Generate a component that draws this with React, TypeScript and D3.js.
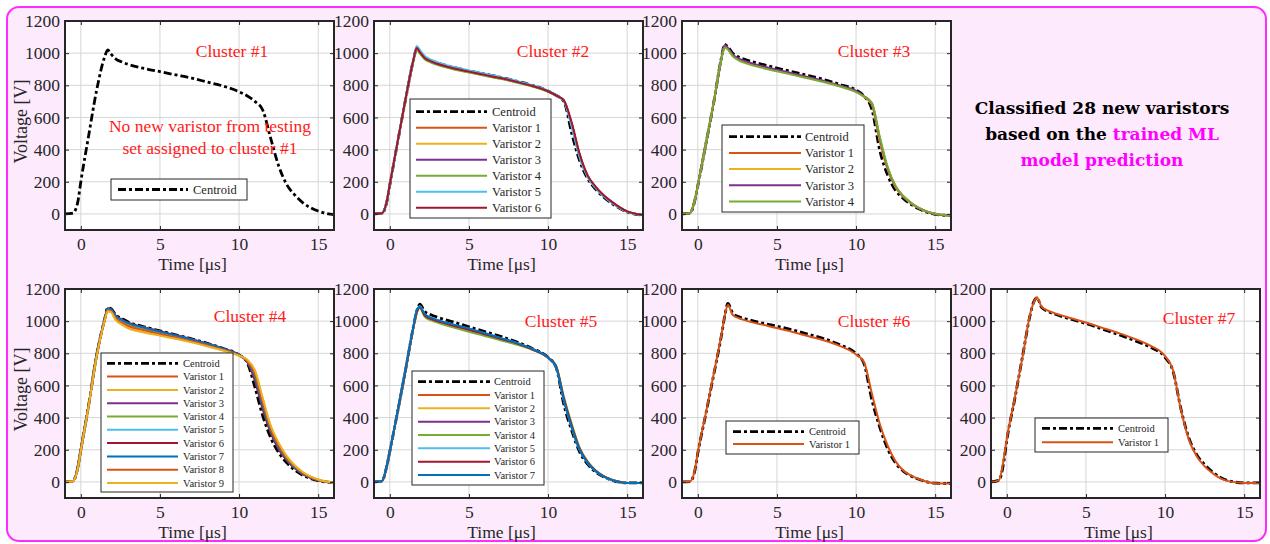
import React, { useRef, useEffect } from 'react';
import * as d3 from 'd3';

// shared sample times (µs) for every waveform
const timeUs = [-1, -0.5, -0.2, 0, 0.5, 1, 1.5, 1.7, 1.9, 2.2, 2.6, 3, 4, 5, 6, 7, 8, 9, 10, 10.5, 11, 11.5, 12, 12.5, 13, 13.5, 14, 15, 16];

const cluster1Centroid = [0, 5, 70, 200, 490, 770, 975, 1020, 995, 965, 945, 930, 905, 885, 865, 845, 820, 795, 760, 735, 700, 645, 470, 300, 185, 120, 72, 18, -5];

const cluster2Centroid = [0, 3, 70, 180, 450, 715, 960, 1030, 1010, 975, 955, 940, 912, 890, 870, 850, 826, 800, 765, 738, 700, 500, 330, 220, 155, 105, 68, 12, -8];
const cluster2Varistors = [
  [0, 4, 75, 185, 452, 716, 958, 1025, 1000, 965, 945, 930, 903, 882, 862, 842, 820, 795, 762, 737, 705, 560, 368, 238, 168, 116, 76, 15, -7],
  [0, 3, 72, 182, 450, 714, 957, 1028, 1005, 968, 948, 933, 906, 885, 865, 845, 822, 797, 763, 738, 704, 550, 360, 235, 165, 114, 74, 14, -7],
  [0, 4, 74, 184, 451, 716, 959, 1030, 1008, 972, 950, 936, 908, 887, 867, 846, 823, 797, 763, 737, 703, 545, 355, 232, 163, 112, 73, 14, -7],
  [0, 3, 71, 181, 449, 713, 955, 1022, 998, 962, 942, 927, 900, 880, 860, 840, 818, 793, 760, 736, 704, 555, 365, 237, 167, 115, 75, 15, -7],
  [0, 4, 76, 186, 455, 722, 968, 1045, 1020, 982, 960, 944, 915, 893, 872, 851, 827, 800, 766, 739, 703, 540, 350, 230, 162, 111, 72, 13, -7],
  [0, 4, 75, 185, 453, 718, 962, 1032, 1006, 970, 949, 934, 906, 885, 865, 845, 822, 796, 763, 738, 706, 565, 372, 240, 170, 118, 78, 16, -7],
];

const cluster3Centroid = [0, 5, 80, 175, 430, 690, 975, 1055, 1040, 1000, 975, 960, 932, 907, 884, 860, 835, 805, 770, 733, 650, 395, 240, 146, 95, 58, 30, -2, -10];
const cluster3Varistors = [
  [0, 5, 82, 178, 432, 692, 972, 1045, 1028, 988, 962, 946, 918, 894, 872, 848, 824, 796, 763, 730, 680, 450, 275, 165, 105, 64, 34, 0, -10],
  [0, 5, 82, 178, 433, 693, 973, 1046, 1027, 987, 961, 945, 917, 893, 871, 847, 823, 795, 762, 730, 682, 455, 278, 167, 106, 65, 35, 0, -10],
  [0, 5, 81, 177, 431, 691, 973, 1050, 1033, 992, 966, 950, 921, 897, 874, 850, 826, 798, 765, 732, 688, 470, 285, 170, 108, 66, 35, 0, -10],
  [0, 5, 80, 176, 430, 690, 968, 1035, 1022, 982, 954, 938, 910, 887, 865, 842, 819, 792, 758, 730, 692, 480, 292, 174, 110, 68, 36, 1, -10],
];

const cluster4Centroid = [0, 5, 85, 200, 480, 790, 1010, 1083, 1078, 1040, 1015, 995, 965, 940, 915, 890, 862, 830, 790, 745, 590, 410, 275, 183, 120, 75, 43, 8, -5];
const cluster4Varistors = [
  [0, 5, 85, 198, 478, 785, 1005, 1072, 1068, 1025, 998, 980, 952, 928, 905, 880, 853, 823, 788, 750, 640, 460, 310, 208, 138, 88, 52, 11, -5],
  [0, 4, 80, 195, 475, 780, 1000, 1062, 1058, 1010, 980, 958, 932, 912, 892, 870, 845, 818, 785, 760, 690, 515, 345, 240, 160, 103, 62, 15, -5],
  [0, 5, 84, 198, 478, 786, 1006, 1074, 1070, 1028, 1002, 984, 956, 932, 908, 883, 856, 826, 789, 752, 650, 470, 318, 212, 141, 90, 53, 11, -5],
  [0, 5, 83, 197, 477, 784, 1004, 1070, 1065, 1020, 993, 975, 947, 923, 900, 876, 850, 821, 787, 754, 660, 480, 325, 218, 145, 93, 55, 12, -5],
  [0, 5, 85, 199, 479, 787, 1007, 1076, 1072, 1030, 1005, 986, 958, 934, 910, 885, 858, 827, 789, 751, 645, 465, 315, 210, 140, 89, 52, 11, -5],
  [0, 5, 86, 200, 481, 789, 1009, 1080, 1075, 1035, 1010, 990, 962, 937, 913, 888, 860, 829, 790, 749, 630, 450, 305, 204, 135, 86, 50, 10, -5],
  [0, 5, 85, 199, 480, 788, 1008, 1078, 1073, 1032, 1007, 988, 960, 936, 911, 886, 859, 828, 790, 751, 648, 468, 318, 212, 141, 90, 53, 11, -5],
  [0, 4, 82, 197, 477, 783, 1003, 1068, 1063, 1018, 990, 970, 943, 920, 898, 875, 849, 821, 787, 755, 670, 492, 332, 225, 150, 97, 58, 13, -5],
  [0, 4, 80, 195, 475, 780, 1000, 1062, 1058, 1008, 978, 955, 930, 910, 890, 868, 843, 817, 785, 762, 695, 520, 350, 243, 162, 105, 63, 15, -5],
];

const cluster5Centroid = [0, 5, 95, 190, 440, 700, 970, 1060, 1105, 1060, 1040, 1025, 995, 965, 935, 905, 872, 830, 775, 715, 480, 318, 185, 110, 62, 32, 12, -6, -6];
const cluster5Varistors = [
  [0, 5, 95, 190, 440, 702, 968, 1060, 1090, 1040, 1018, 1004, 976, 950, 922, 893, 864, 826, 772, 718, 510, 340, 200, 120, 68, 35, 13, -6, -6],
  [0, 5, 94, 189, 439, 700, 966, 1055, 1085, 1035, 1013, 1000, 972, 946, 918, 890, 862, 825, 772, 720, 515, 345, 203, 122, 69, 36, 14, -6, -6],
  [0, 5, 95, 190, 441, 702, 968, 1058, 1088, 1038, 1016, 1002, 974, 948, 920, 892, 863, 826, 772, 719, 512, 342, 201, 121, 68, 35, 13, -6, -6],
  [0, 5, 93, 188, 438, 698, 963, 1050, 1080, 1028, 1005, 992, 962, 934, 908, 881, 855, 822, 773, 724, 530, 360, 212, 128, 72, 38, 15, -6, -6],
  [0, 5, 95, 191, 442, 704, 970, 1062, 1092, 1042, 1020, 1006, 978, 951, 923, 894, 865, 827, 773, 719, 508, 338, 199, 119, 67, 35, 13, -6, -6],
  [0, 5, 94, 190, 440, 701, 967, 1056, 1086, 1036, 1014, 1001, 973, 947, 919, 891, 862, 825, 772, 720, 518, 348, 205, 123, 70, 36, 14, -6, -6],
  [0, 5, 96, 192, 443, 705, 972, 1070, 1090, 1045, 1022, 1008, 980, 955, 926, 896, 866, 828, 773, 717, 505, 335, 197, 118, 66, 34, 13, -6, -6],
];

const cluster6Centroid = [0, 2, 65, 180, 420, 665, 915, 1030, 1110, 1050, 1027, 1015, 990, 969, 945, 918, 890, 852, 798, 736, 510, 340, 205, 117, 66, 35, 15, -8, -10];
const cluster6Varistors = [
  [0, 3, 70, 185, 425, 670, 920, 1030, 1100, 1040, 1018, 1005, 980, 957, 933, 906, 880, 845, 793, 746, 550, 360, 225, 128, 70, 38, 17, -8, -10],
];

const cluster7Centroid = [0, 10, 120, 260, 515, 785, 1050, 1120, 1145, 1085, 1060, 1045, 1013, 985, 952, 918, 882, 841, 775, 690, 455, 275, 170, 108, 62, 28, 8, -6, -6];
const cluster7Varistors = [
  [0, 10, 140, 270, 520, 780, 1055, 1115, 1148, 1090, 1065, 1050, 1020, 992, 960, 928, 893, 851, 783, 696, 450, 265, 159, 97, 55, 22, 5, -6, -6],
];

const clusterNames = ['Cluster #1', 'Cluster #2', 'Cluster #3', 'Cluster #4', 'Cluster #5', 'Cluster #6', 'Cluster #7'];
const centroids = [cluster1Centroid, cluster2Centroid, cluster3Centroid, cluster4Centroid, cluster5Centroid, cluster6Centroid, cluster7Centroid];
const varistorSets = [[], cluster2Varistors, cluster3Varistors, cluster4Varistors, cluster5Varistors, cluster6Varistors, cluster7Varistors];

const xTicks = [0, 5, 10, 15];
const yTicks = [0, 200, 400, 600, 800, 1000, 1200];
const xDomain = [-1, 16];
const yDomain = [-100, 1200];

// MATLAB colour order after the first (blue) slot went to the centroid
const lineColors = ['#D95319', '#EDB120', '#7E2F8E', '#77AC30', '#4DBEEE', '#A2142F', '#0072BD'];

const colX = [65, 374, 682, 991];
const rowY = [21, 289];
const plotW = 269;
const plotH = 209;

// where each panel sits and where its legend / title go
const panelLayout = [
  { col: 0, row: 0, title: [232, 57], legend: { x: 111, y: 179, w: 136, h: 21, row0: 189.5, gap: 16, l0: 118, l1: 188, tx: 193, fs: 12.5 } },
  { col: 1, row: 0, title: [553, 57], legend: { x: 410, y: 99, w: 141, h: 119, row0: 111.7, gap: 16, l0: 416, l1: 487, tx: 492, fs: 12.5 } },
  { col: 2, row: 0, title: [874, 57], legend: { x: 722, y: 125, w: 142, h: 87, row0: 136.7, gap: 16.2, l0: 729, l1: 801, tx: 805, fs: 12.5 } },
  { col: 0, row: 1, title: [250, 322], legend: { x: 101, y: 353, w: 132, h: 139, row0: 363.3, gap: 13.3, l0: 107, l1: 178, tx: 183, fs: 10.5 } },
  { col: 1, row: 1, title: [561, 327], legend: { x: 412, y: 371, w: 132, h: 114, row0: 381.7, gap: 13.33, l0: 418, l1: 490, tx: 494, fs: 10.5 } },
  { col: 2, row: 1, title: [874, 327], legend: { x: 726, y: 421, w: 133, h: 33, row0: 431.7, gap: 12.3, l0: 733, l1: 804, tx: 809, fs: 10.5 } },
  { col: 3, row: 1, title: [1199, 324], legend: { x: 1035, y: 418, w: 133, h: 34, row0: 428.3, gap: 14, l0: 1042, l1: 1113, tx: 1118, fs: 10.5 } },
];

const serif = '"Liberation Serif", "Times New Roman", serif';
const boldSerif = '"DejaVu Serif", "Liberation Serif", serif';
const axisColor = '#262626';
const dashCentroid = '8,3,3,3';

const App = () => {
  const svgRef = useRef();

  useEffect(() => {
    const svg = d3.select(svgRef.current);
    svg.selectAll('*').remove();

    // pink frame
    svg.append('rect')
      .attr('x', 7).attr('y', 7)
      .attr('width', 1259).attr('height', 534)
      .attr('rx', 12)
      .attr('fill', '#fdeafc')
      .attr('stroke', '#ff2bff')
      .attr('stroke-width', 2);

    const defs = svg.append('defs');

    panelLayout.forEach((L, i) => {
      const x0 = colX[L.col];
      const y0 = rowY[L.row];
      const xScale = d3.scaleLinear().domain(xDomain).range([x0, x0 + plotW]);
      const yScale = d3.scaleLinear().domain(yDomain).range([y0 + plotH, y0]);

      const g = svg.append('g');

      g.append('rect')
        .attr('x', x0).attr('y', y0)
        .attr('width', plotW).attr('height', plotH)
        .attr('fill', 'white');

      // grid
      g.selectAll('.gx').data(xTicks).enter().append('line')
        .attr('x1', d => xScale(d)).attr('x2', d => xScale(d))
        .attr('y1', y0).attr('y2', y0 + plotH)
        .attr('stroke', '#d6d6d6').attr('stroke-width', 1);
      g.selectAll('.gy').data(yTicks).enter().append('line')
        .attr('x1', x0).attr('x2', x0 + plotW)
        .attr('y1', d => yScale(d)).attr('y2', d => yScale(d))
        .attr('stroke', '#d6d6d6').attr('stroke-width', 1);

      defs.append('clipPath').attr('id', `clip${i}`)
        .append('rect')
        .attr('x', x0).attr('y', y0)
        .attr('width', plotW).attr('height', plotH);

      const line = d3.line()
        .x((d, k) => xScale(timeUs[k]))
        .y(d => yScale(d))
        .curve(d3.curveMonotoneX);

      const curves = g.append('g').attr('clip-path', `url(#clip${i})`);

      curves.append('path')
        .datum(centroids[i])
        .attr('fill', 'none')
        .attr('stroke', 'black')
        .attr('stroke-width', 2.8)
        .attr('stroke-dasharray', dashCentroid)
        .attr('d', line);

      varistorSets[i].forEach((v, k) => {
        curves.append('path')
          .datum(v)
          .attr('fill', 'none')
          .attr('stroke', lineColors[k % lineColors.length])
          .attr('stroke-width', 2)
          .attr('d', line);
      });

      // axes: labels bottom/left, inward ticks on all sides
      const tickStyle = sel => {
        sel.select('.domain').remove();
        sel.selectAll('line').attr('stroke', axisColor).attr('stroke-width', 1);
        sel.selectAll('text')
          .attr('fill', axisColor)
          .style('font-family', serif)
          .style('font-size', '17.5px');
      };
      g.append('g')
        .attr('transform', `translate(0,${y0 + plotH})`)
        .call(d3.axisBottom(xScale).tickValues(xTicks).tickSize(-4).tickPadding(8).tickFormat(d3.format('d')))
        .call(tickStyle);
      g.append('g')
        .attr('transform', `translate(0,${y0})`)
        .call(d3.axisTop(xScale).tickValues(xTicks).tickSize(-4).tickFormat(() => ''))
        .call(tickStyle);
      g.append('g')
        .attr('transform', `translate(${x0},0)`)
        .call(d3.axisLeft(yScale).tickValues(yTicks).tickSize(-4).tickPadding(5).tickFormat(d3.format('d')))
        .call(tickStyle);
      g.append('g')
        .attr('transform', `translate(${x0 + plotW},0)`)
        .call(d3.axisRight(yScale).tickValues(yTicks).tickSize(-4).tickFormat(() => ''))
        .call(tickStyle);

      g.append('rect')
        .attr('x', x0).attr('y', y0)
        .attr('width', plotW).attr('height', plotH)
        .attr('fill', 'none')
        .attr('stroke', axisColor)
        .attr('stroke-width', 2);

      g.append('text')
        .attr('x', x0 + plotW / 2 - 7)
        .attr('y', y0 + plotH + 40)
        .attr('text-anchor', 'middle')
        .attr('fill', axisColor)
        .style('font-family', serif)
        .style('font-size', '17.5px')
        .text('Time [μs]');

      if (L.col === 0) {
        g.append('text')
          .attr('transform', `translate(27,${y0 + plotH / 2 - 4}) rotate(-90)`)
          .attr('text-anchor', 'middle')
          .attr('fill', axisColor)
          .style('font-family', serif)
          .style('font-size', '18px')
          .text('Voltage [V]');
      }

      g.append('text')
        .attr('x', L.title[0]).attr('y', L.title[1])
        .attr('text-anchor', 'middle')
        .attr('fill', '#ff1a1a')
        .style('font-family', serif)
        .style('font-size', '17.5px')
        .text(clusterNames[i]);

      // legend
      const lg = L.legend;
      const leg = g.append('g');
      leg.append('rect')
        .attr('x', lg.x).attr('y', lg.y)
        .attr('width', lg.w).attr('height', lg.h)
        .attr('fill', 'white')
        .attr('stroke', axisColor)
        .attr('stroke-width', 1);
      const entries = [{ label: 'Centroid', color: 'black', dash: true }]
        .concat(varistorSets[i].map((v, k) => ({ label: `Varistor ${k + 1}`, color: lineColors[k % lineColors.length], dash: false })));
      entries.forEach((e, k) => {
        const yy = lg.row0 + k * lg.gap;
        leg.append('line')
          .attr('x1', lg.l0).attr('x2', lg.l1)
          .attr('y1', yy).attr('y2', yy)
          .attr('stroke', e.color)
          .attr('stroke-width', e.dash ? 2.8 : 2)
          .attr('stroke-dasharray', e.dash ? dashCentroid : null);
        leg.append('text')
          .attr('x', lg.tx).attr('y', yy)
          .attr('dy', '0.35em')
          .attr('fill', axisColor)
          .style('font-family', serif)
          .style('font-size', `${lg.fs}px`)
          .text(e.label);
      });
    });

    // note inside cluster 1
    const note = svg.append('text')
      .attr('text-anchor', 'middle')
      .attr('fill', '#ff1a1a')
      .style('font-family', serif)
      .style('font-size', '17.5px');
    note.append('tspan').attr('x', 210).attr('y', 132).text('No new varistor from testing');
    note.append('tspan').attr('x', 210).attr('y', 154).text('set assigned to cluster #1');

    // summary text, top right
    const summary = svg.append('text')
      .attr('text-anchor', 'middle')
      .attr('fill', 'black')
      .style('font-family', boldSerif)
      .style('font-weight', 'bold')
      .style('font-size', '17px');
    summary.append('tspan').attr('x', 1102).attr('y', 114).text('Classified 28 new varistors');
    const l2 = summary.append('tspan').attr('x', 1102).attr('y', 140);
    l2.append('tspan').text('based on the ');
    l2.append('tspan').attr('fill', '#ff00ff').text('trained ML');
    summary.append('tspan').attr('x', 1102).attr('y', 166).attr('fill', '#ff00ff').text('model prediction');
  }, []);

  return (
    <svg
      ref={svgRef}
      width={1270}
      height={544}
      style={{ position: 'absolute', left: 0, top: 0, background: 'white' }}
    />
  );
};

export default App;
